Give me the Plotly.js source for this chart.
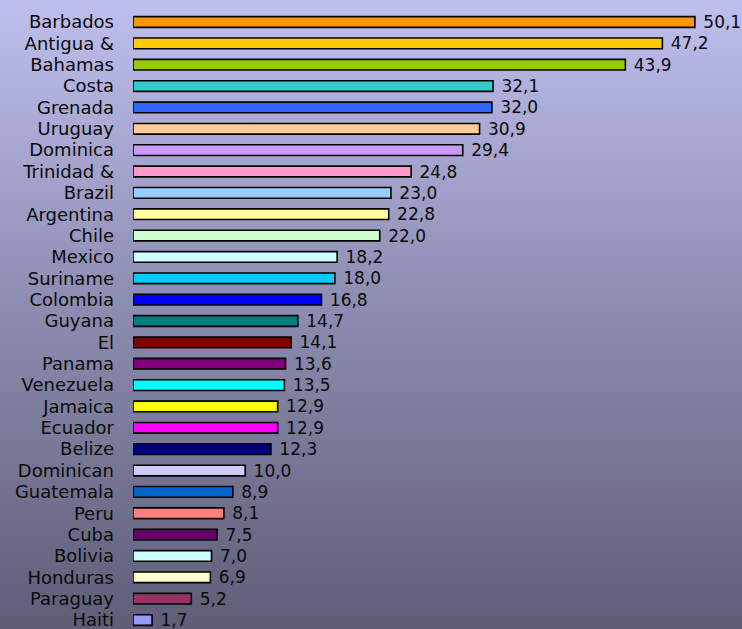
<!DOCTYPE html>
<html>
<head>
<meta charset="utf-8">
<script src="https://cdn.plot.ly/plotly-3.0.1.min.js"></script>
<style>
html,body{margin:0;padding:0;}
body{width:742px;height:629px;background:linear-gradient(to bottom,#BFBFEF 0%,#8B8BAF 50%,#5E5E77 100%);}
#chart{width:742px;height:629px;}
</style>
</head>
<body>
<div id="chart"></div>
<script>
const countries = ["Barbados","Antigua &","Bahamas","Costa","Grenada","Uruguay","Dominica","Trinidad &","Brazil","Argentina","Chile","Mexico","Suriname","Colombia","Guyana","El","Panama","Venezuela","Jamaica","Ecuador","Belize","Dominican","Guatemala","Peru","Cuba","Bolivia","Honduras","Paraguay","Haiti"];
const values = [50.1,47.2,43.9,32.1,32.0,30.9,29.4,24.8,23.0,22.8,22.0,18.2,18.0,16.8,14.7,14.1,13.6,13.5,12.9,12.9,12.3,10.0,8.9,8.1,7.5,7.0,6.9,5.2,1.7];
const colors = ["#FF9900","#FFCC00","#99CC00","#33CCCC","#3366FF","#FFCC99","#CC99FF","#FF99CC","#99CCFF","#FFFF99","#CCFFCC","#CCFFFF","#00CCFF","#0000FF","#008080","#800000","#800080","#00FFFF","#FFFF00","#FF00FF","#000080","#CCCCFF","#0066CC","#FF8080","#660066","#CCFFFF","#FFFFCC","#993366","#9999FF"];
const labels = values.map(v => v.toFixed(1).replace('.', ','));

const FONT = '"DejaVu Sans", Verdana, sans-serif';

const trace = {
  type: 'bar',
  orientation: 'h',
  x: values,
  y: countries,
  text: labels,
  texttemplate: '\u00a0%{text}',
  textposition: 'outside',
  constraintext: 'none',
  cliponaxis: false,
  textfont: {family: FONT, size: 17, color: '#0a0a0a'},
  marker: {color: colors, line: {color: '#000', width: 1.6}},
  hoverinfo: 'none'
};

const layout = {
  width: 742, height: 629,
  margin: {l: 133, r: 0, t: 0, b: 0},
  paper_bgcolor: 'rgba(0,0,0,0)',
  plot_bgcolor: 'rgba(0,0,0,0)',
  bargap: 0.5,
  showlegend: false,
  xaxis: {range: [0, 54.3], visible: false, showgrid: false, zeroline: false},
  yaxis: {
    type: 'category',
    range: [28.42, -1.03],
    tickmode: 'linear', tick0: 0, dtick: 1,
    showgrid: false, zeroline: false, showline: false, ticks: '',
    ticklabelstandoff: 18,
    tickfont: {family: FONT, size: 18, color: '#0a0a0a'}
  },
  font: {family: FONT}
};

Plotly.newPlot('chart', [trace], layout, {displayModeBar: false, staticPlot: true});
</script>
</body>
</html>
